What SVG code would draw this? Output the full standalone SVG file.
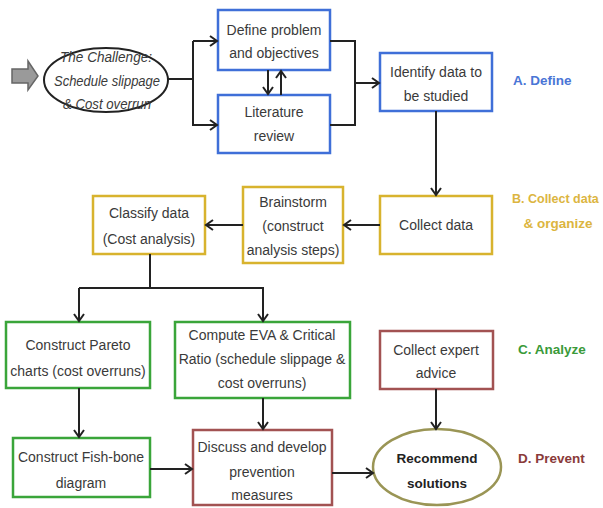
<svg xmlns="http://www.w3.org/2000/svg" width="603" height="508" viewBox="0 0 603 508">
<defs>
<marker id="arr" markerWidth="12" markerHeight="12" refX="10" refY="6" orient="auto" markerUnits="userSpaceOnUse">
<polyline points="3,1 10,6 3,11" fill="none" stroke="#222" stroke-width="2"/>
</marker>
</defs>
<style>
.t{font-family:"Liberation Sans",Arial,sans-serif;font-size:14px;fill:#3a3a3a;text-anchor:middle}
.it{font-style:italic;font-size:14px}
.blue{fill:#fff;stroke:#3f6fd8;stroke-width:2.5}
.gold{fill:#fff;stroke:#d8b32e;stroke-width:2.5}
.green{fill:#fff;stroke:#3aa53a;stroke-width:2.5}
.red{fill:#fff;stroke:#a25252;stroke-width:2.5}
.c{fill:none;stroke:#222;stroke-width:2}
.lab{font-family:"Liberation Sans",Arial,sans-serif;font-size:13.5px;font-weight:bold}
</style>
<rect width="603" height="508" fill="#fff"/>
<g id="start-arrow">
<polygon points="12,69 28,69 28,61 38,76 28,90 28,83 12,83" fill="#9a9a9a" stroke="#666" stroke-width="1.5"/>
</g>
<g id="challenge">
<ellipse cx="106" cy="80" rx="62" ry="32" fill="#fff" stroke="#222" stroke-width="2"/>
<text class="t it" x="106" y="62" textLength="92" lengthAdjust="spacingAndGlyphs">The Challenge:</text>
<text class="t it" x="107" y="86" textLength="106" lengthAdjust="spacingAndGlyphs">Schedule slippage</text>
<text class="t it" x="107" y="109" textLength="88" lengthAdjust="spacingAndGlyphs">&amp; Cost overrun</text>
</g>
<g id="define">
<rect class="blue" x="218" y="10" width="112" height="60"/>
<text class="t" x="274" y="35">Define problem</text>
<text class="t" x="274" y="58">and objectives</text>
</g>
<g id="literature">
<rect class="blue" x="218" y="95" width="112" height="58"/>
<text class="t" x="274" y="117">Literature</text>
<text class="t" x="274" y="141">review</text>
</g>
<g id="identify">
<rect class="blue" x="380" y="53" width="112" height="58"/>
<text class="t" x="436" y="77">Identify data to</text>
<text class="t" x="436" y="101">be studied</text>
</g>
<g id="collect">
<rect class="gold" x="380" y="196" width="112" height="58"/>
<text class="t" x="436" y="230">Collect data</text>
</g>
<g id="brainstorm">
<rect class="gold" x="243" y="187" width="100" height="76"/>
<text class="t" x="293" y="207">Brainstorm</text>
<text class="t" x="293" y="231">(construct</text>
<text class="t" x="293" y="255">analysis steps)</text>
</g>
<g id="classify">
<rect class="gold" x="93" y="196" width="112" height="58"/>
<text class="t" x="149" y="218">Classify data</text>
<text class="t" x="149" y="244">(Cost analysis)</text>
</g>
<g id="pareto">
<rect class="green" x="6" y="322" width="144" height="66"/>
<text class="t" x="78" y="350">Construct Pareto</text>
<text class="t" x="78" y="376">charts (cost overruns)</text>
</g>
<g id="eva">
<rect class="green" x="175" y="322" width="175" height="76"/>
<text class="t" x="262" y="340">Compute EVA &amp; Critical</text>
<text class="t" x="262" y="364">Ratio (schedule slippage &amp;</text>
<text class="t" x="262" y="388">cost overruns)</text>
</g>
<g id="fishbone">
<rect class="green" x="13" y="438" width="137" height="59"/>
<text class="t" x="81" y="462">Construct Fish-bone</text>
<text class="t" x="81" y="488">diagram</text>
</g>
<g id="discuss">
<rect class="red" x="193" y="430" width="139" height="75"/>
<text class="t" x="262" y="452">Discuss and develop</text>
<text class="t" x="262" y="477">prevention</text>
<text class="t" x="262" y="500">measures</text>
</g>
<g id="expert">
<rect class="red" x="380" y="331" width="113" height="58"/>
<text class="t" x="436" y="355">Collect expert</text>
<text class="t" x="436" y="378">advice</text>
</g>
<g id="recommend">
<ellipse cx="437" cy="467" rx="64" ry="38" fill="#fff" stroke="#9a9555" stroke-width="2.5"/>
<text class="t" style="font-weight:bold;font-size:13.5px;fill:#222" x="437" y="463">Recommend</text>
<text class="t" style="font-weight:bold;font-size:13.5px;fill:#222" x="437" y="488">solutions</text>
</g>
<g id="connectors">
<polyline class="c" points="168,79 193,79"/>
<polyline class="c" points="193,41 193,125 217,125" marker-end="url(#arr)"/>
<polyline class="c" points="193,41 217,41" marker-end="url(#arr)"/>
<polyline class="c" points="268,70 268,94" marker-end="url(#arr)"/>
<polyline class="c" points="281,95 281,71" marker-end="url(#arr)"/>
<polyline class="c" points="330,41 355,41 355,125 330,125"/>
<polyline class="c" points="355,83 379,83" marker-end="url(#arr)"/>
<polyline class="c" points="436,111 436,195" marker-end="url(#arr)"/>
<polyline class="c" points="380,225 344,225" marker-end="url(#arr)"/>
<polyline class="c" points="243,225 206,225" marker-end="url(#arr)"/>
<polyline class="c" points="150,254 150,288"/>
<polyline class="c" points="79,288 263,288 263,321" marker-end="url(#arr)"/>
<polyline class="c" points="79,288 79,321" marker-end="url(#arr)"/>
<polyline class="c" points="79,388 79,437" marker-end="url(#arr)"/>
<polyline class="c" points="263,398 263,429" marker-end="url(#arr)"/>
<polyline class="c" points="150,469 192,469" marker-end="url(#arr)"/>
<polyline class="c" points="332,473 373,473" marker-end="url(#arr)"/>
<polyline class="c" points="436,389 436,429" marker-end="url(#arr)"/>
</g>
<g id="phase-labels">
<text class="lab" x="513" y="85" fill="#4a76d6">A. Define</text>
<text class="lab" x="512" y="203" fill="#dcb540" style="font-size:12.5px">B. Collect data</text>
<text class="lab" x="558" y="228" fill="#dcb540" text-anchor="middle">&amp; organize</text>
<text class="lab" x="518" y="354" fill="#3a9a3a">C. Analyze</text>
<text class="lab" x="518" y="463" fill="#8a3a3a">D. Prevent</text>
</g>
</svg>
